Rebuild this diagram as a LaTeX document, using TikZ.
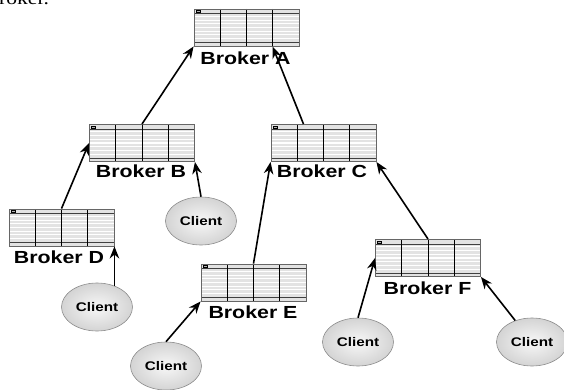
\documentclass[tikz,border=0pt]{standalone}
\usepackage{fontspec}
\newfontfamily\labelfont[FakeStretch=1.22]{Liberation Sans}
\newfontfamily\runningfont[FakeStretch=1.2]{Liberation Serif}
\usetikzlibrary{arrows.meta,calc,shapes.geometric}

\tikzset{
  broker/.style={rectangle, draw=black!60, line width=0.9pt, fill=black!11,
    minimum width=105pt, minimum height=37pt, inner sep=0pt,
    path picture={
      \coordinate (ppnw) at (path picture bounding box.north west);
      \coordinate (ppne) at (path picture bounding box.north east);
      \coordinate (ppsw) at (path picture bounding box.south west);
      \coordinate (ppse) at (path picture bounding box.south east);
      % light stripes across the table
      \foreach \f in {0.2,0.3,...,0.86}
        \draw[white, line width=1.1pt] ($(ppnw)!\f!(ppsw)$) -- ($(ppne)!\f!(ppse)$);
      % header and footer rules
      \draw[black!75, line width=0.6pt] ($(ppnw)!0.12!(ppsw)$) -- ($(ppne)!0.12!(ppse)$);
      \draw[black!75, line width=0.6pt] ($(ppnw)!0.91!(ppsw)$) -- ($(ppne)!0.91!(ppse)$);
      % column dividers
      \foreach \f in {0.25,0.5,0.75}
        \draw[black, line width=0.8pt] ($(ppnw)!\f!(ppne)$) -- ($(ppsw)!\f!(ppse)$);
      % small window icon
      \draw[black, line width=0.5pt, fill=black!30]
        ([xshift=2pt,yshift=-1.5pt]ppnw) rectangle ([xshift=6pt,yshift=-3.6pt]ppnw);
    }},
  blabel/.style={font=\labelfont\bfseries\fontsize{17.5}{20}\selectfont, inner sep=0pt},
  client/.style={ellipse, draw=black!45, line width=0.6pt,
    inner color=black!3, outer color=black!17,
    minimum width=71pt, minimum height=48pt, inner sep=0pt,
    font=\labelfont\bfseries\fontsize{12.5}{14}\selectfont},
  link/.style={-{Stealth[length=12pt,width=9.5pt]}, line width=1.6pt}
}

\begin{document}
\begin{tikzpicture}[x=1pt, y=-1pt]
\useasboundingbox (0,0) rectangle (564,390);

% tail of the running text above
\node[font=\runningfont\fontsize{18}{20}\selectfont, anchor=base west, inner sep=0pt]
  (runin) at (-1,5) {roker.};

% brokers
\node[broker] (A) at (246.5,27.5) {};
\node[broker] (B) at (142,143) {};
\node[broker] (C) at (323.5,143) {};
\node[broker] (D) at (61.5,227.5) {};
\node[broker] (E) at (253.5,282.5) {};
\node[broker] (F) at (428,258) {};

\node[blabel] (labA) at (245.5,58) {Broker A};
\node[blabel] (labB) at (141,171.5) {Broker B};
\node[blabel] (labC) at (322,171.5) {Broker C};
\node[blabel] (labD) at (59,257.5) {Broker D};
\node[blabel] (labE) at (253,312) {Broker E};
\node[blabel] (labF) at (427.5,288) {Broker F};

% clients
\node[client] (cB) at (201,221) {Client};
\node[client] (cD) at (97,307) {Client};
\node[client] (cE) at (166,366) {Client};
\node[client] (cF1) at (358,342) {Client};
\node[client] (cF2) at (532,342) {Client};

% links towards the root
\draw[link] (B.north) -- (A.south west);
\draw[link] ([xshift=-20pt]C.north) -- ([xshift=26pt]A.south);
\draw[link] (D.north) -- (B.west);
\draw[link] (cB.north) -- (B.south east);
\draw[link] (E.north) -- (C.south west);
\draw[link] (F.north) -- (C.south east);
\draw[link] (cD.52 -| D.south east) -- (D.south east);
\draw[link] (cE.north) -- (E.south west);
\draw[link] (cF1.north) -- (F.west);
\draw[link] (cF2.128) -- (F.south east);
\end{tikzpicture}
\end{document}
